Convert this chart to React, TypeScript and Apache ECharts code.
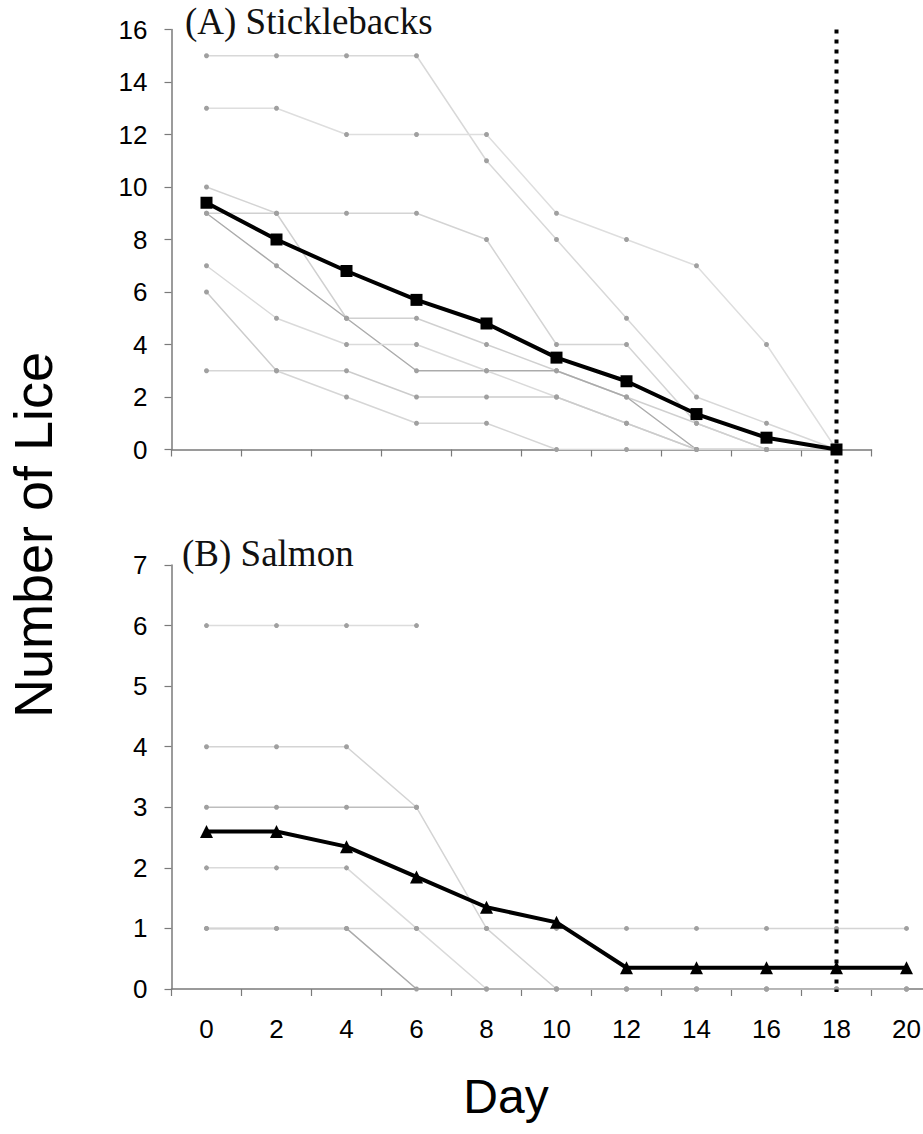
import React, { useEffect, useRef } from "react";
import * as echarts from "echarts";

// ---- Data ----
const stickleDays = ["0", "2", "4", "6", "8", "10", "12", "14", "16", "18"];
const salmonDays = ["0", "2", "4", "6", "8", "10", "12", "14", "16", "18", "20"];
const stickleTicks = [0, 2, 4, 6, 8, 10, 12, 14, 16];
const salmonTicks = [0, 1, 2, 3, 4, 5, 6, 7];

const stickleMean = [9.4, 8.0, 6.8, 5.7, 4.8, 3.5, 2.6, 1.35, 0.45, 0];
const salmonMean = [2.6, 2.6, 2.35, 1.85, 1.35, 1.1, 0.35, 0.35, 0.35, 0.35, 0.35];

// individual sticklebacks
const stickle1 = [15, 15, 15, 15, 11, 8, 5, 2, 1, 0];
const stickle2 = [13, 13, 12, 12, 12, 9, 8, 7, 4, 0];
const stickle3 = [10, 9, 9, 9, 8, 4, 4, 1, 0, 0];
const stickle4 = [9, 9, 5, 5, 4, 3, 2, 1, 0, 0];
const stickle5 = [9, 7, 5, 3, 3, 3, 2, 0, 0, 0];
const stickle6 = [7, 5, 4, 4, 3, 2, 1, 0, 0, 0];
const stickle7 = [6, 3, 3, 2, 2, 2, 1, 0, 0, 0];
const stickle8 = [3, 3, 2, 1, 1, 0, 0, 0, 0, 0];

// individual salmon
const salmon1 = [6, 6, 6, 6, null, null, null, null, null, null, null];
const salmon2 = [4, 4, 4, 3, 1, 0, 0, 0, 0, 0, 0];
const salmon3 = [3, 3, 3, 3, null, null, null, null, null, null, null];
const salmon4 = [2, 2, 2, 1, 0, 0, 0, 0, 0, 0, 0];
const salmon5 = [1, 1, 1, 0, 0, 0, 0, 0, 0, 0, 0];
const salmon6 = [1, 1, 1, 1, 1, 1, 1, 1, 1, 1, 1];

const stickleFish = [stickle1, stickle2, stickle3, stickle4, stickle5, stickle6, stickle7, stickle8];
const salmonFish = [salmon1, salmon2, salmon3, salmon4, salmon5, salmon6];
const stickleLineColors = ["#d8d8d8", "#dedede", "#d4d4d4", "#d0d0d0", "#ababab", "#dadada", "#cccccc", "#d6d6d6"];
const salmonLineColors = ["#dcdcdc", "#d4d4d4", "#bdbdbd", "#dadada", "#ababab", "#d4d4d4"];

const SANS = "'Liberation Sans', Arial, Helvetica, sans-serif";
const SERIF = "'Liberation Serif', 'Times New Roman', serif";

export default function App() {
  const ref = useRef<HTMLDivElement>(null);

  useEffect(() => {
    document.body.style.margin = "0";
    const chart = echarts.init(ref.current!, null, { renderer: "svg" });

    const axisLine = { show: true, lineStyle: { color: "#7a7a7a", width: 1.5 } };
    const axisTick = { show: true, inside: false, length: 7, lineStyle: { color: "#7a7a7a", width: 1.2 } };
    const yLabel = { fontSize: 26, fontFamily: SANS, color: "#000", margin: 24 };

    const fishSeries = (data: (number | null)[], color: string, grid: number) => ({
      type: "line",
      xAxisIndex: grid,
      yAxisIndex: grid,
      data,
      symbol: "circle",
      symbolSize: 5,
      showSymbol: true,
      silent: true,
      itemStyle: { color: "#a0a0a0" },
      lineStyle: { color, width: 1.5 },
      z: 2,
    });

    const series: any[] = [];
    stickleFish.forEach((f, i) => series.push(fishSeries(f, stickleLineColors[i], 0)));
    salmonFish.forEach((f, i) => series.push(fishSeries(f, salmonLineColors[i], 1)));
    series.push({
      type: "line",
      xAxisIndex: 0,
      yAxisIndex: 0,
      data: stickleMean,
      symbol: "rect",
      symbolSize: 12,
      itemStyle: { color: "#000" },
      lineStyle: { color: "#000", width: 4 },
      z: 5,
    });
    series.push({
      type: "line",
      xAxisIndex: 1,
      yAxisIndex: 1,
      data: salmonMean,
      symbol: "triangle",
      symbolSize: 13,
      itemStyle: { color: "#000" },
      lineStyle: { color: "#000", width: 4 },
      z: 5,
    });

    chart.setOption({
      animation: false,
      backgroundColor: "#ffffff",
      grid: [
        { left: 171.5, top: 29.5, width: 700, height: 420, containLabel: false },
        { left: 171.5, top: 565, width: 770, height: 424, containLabel: false },
      ],
      xAxis: [
        {
          type: "category",
          gridIndex: 0,
          data: stickleDays,
          boundaryGap: true,
          axisLine,
          axisTick,
          axisLabel: { show: false },
          splitLine: { show: false },
        },
        {
          type: "category",
          gridIndex: 1,
          data: salmonDays,
          boundaryGap: true,
          axisLine,
          axisTick,
          axisLabel: { show: true, fontSize: 26, fontFamily: SANS, color: "#000", margin: 27 },
          splitLine: { show: false },
        },
      ],
      yAxis: [
        {
          type: "value",
          gridIndex: 0,
          min: stickleTicks[0],
          max: stickleTicks[stickleTicks.length - 1],
          interval: 2,
          axisLine,
          axisTick,
          axisLabel: yLabel,
          splitLine: { show: false },
        },
        {
          type: "value",
          gridIndex: 1,
          min: salmonTicks[0],
          max: salmonTicks[salmonTicks.length - 1],
          interval: 1,
          axisLine,
          axisTick,
          axisLabel: yLabel,
          splitLine: { show: false },
        },
      ],
      series,
    });

    const top = chart.convertToPixel({ gridIndex: 0 }, ["18", 16]) as number[];
    const bot = chart.convertToPixel({ gridIndex: 1 }, ["18", 0]) as number[];

    chart.setOption({
      graphic: {
        elements: [
          {
            id: "dotted",
            type: "line",
            z: 10,
            shape: { x1: top[0], y1: top[1], x2: top[0], y2: bot[1] + 3 },
            style: { stroke: "#000", lineWidth: 4, lineDash: [4, 6] },
          },
          {
            id: "titleA",
            type: "text",
            x: 185,
            y: 21,
            style: {
              text: "(A) Sticklebacks",
              font: `37px ${SERIF}`,
              fill: "#111",
              align: "left",
              verticalAlign: "middle",
            },
          },
          {
            id: "titleB",
            type: "text",
            x: 182,
            y: 553,
            style: {
              text: "(B) Salmon",
              font: `37px ${SERIF}`,
              fill: "#111",
              align: "left",
              verticalAlign: "middle",
            },
          },
          {
            id: "ylabel",
            type: "text",
            x: 33,
            y: 535,
            rotation: Math.PI / 2,
            style: {
              text: "Number of Lice",
              font: `54px ${SANS}`,
              fill: "#000",
              align: "center",
              verticalAlign: "middle",
            },
          },
          {
            id: "xlabel",
            type: "text",
            x: 506,
            y: 1096,
            style: {
              text: "Day",
              font: `48px ${SANS}`,
              fill: "#000",
              align: "center",
              verticalAlign: "middle",
            },
          },
        ],
      },
    });

    return () => chart.dispose();
  }, []);

  return (
    <div style={{ width: 923, height: 1134, overflow: "hidden" }}>
      <div ref={ref} style={{ width: 960, height: 1134 }} />
    </div>
  );
}
